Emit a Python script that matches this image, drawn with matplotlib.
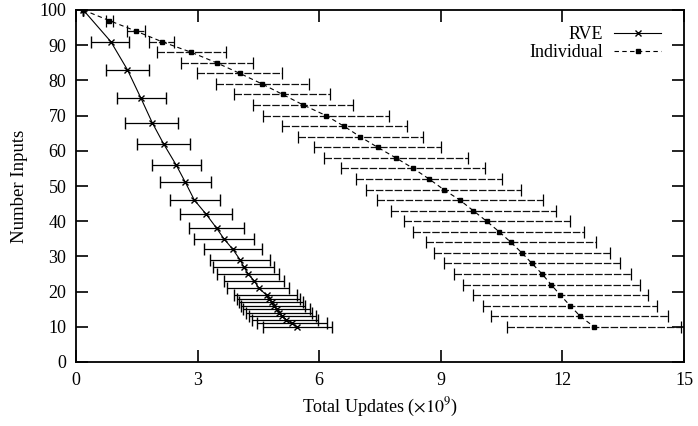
import matplotlib
matplotlib.use("Agg")
import matplotlib.pyplot as plt
import numpy as np

plt.rcParams['font.family'] = ['Liberation Serif', 'DejaVu Serif']
plt.rcParams['mathtext.fontset'] = 'stix'

# RVE series
rve_y = [100, 91, 83, 75, 68, 62, 56, 51, 46, 42, 38, 35, 32, 29, 27, 25, 23, 21,
         19, 18, 17, 16, 15, 14, 13, 12, 11, 10]
rve_x = [0.18, 0.86, 1.27, 1.60, 1.88, 2.16, 2.47, 2.70, 2.92, 3.21, 3.47, 3.65, 3.87,
         4.05, 4.14, 4.25, 4.40, 4.51, 4.70, 4.76, 4.83, 4.88, 4.95, 5.02, 5.09, 5.19,
         5.32, 5.45]
rve_lo = [0.18, 0.38, 0.73, 1.01, 1.21, 1.50, 1.87, 2.07, 2.31, 2.57, 2.80, 2.91, 3.17,
          3.31, 3.37, 3.48, 3.64, 3.73, 3.91, 3.96, 4.02, 4.06, 4.13, 4.19, 4.26, 4.33,
          4.46, 4.62]
rve_hi = [0.18, 1.31, 1.79, 2.22, 2.52, 2.81, 3.08, 3.33, 3.55, 3.86, 4.14, 4.40, 4.58,
          4.79, 4.89, 5.00, 5.14, 5.26, 5.46, 5.53, 5.61, 5.66, 5.77, 5.83, 5.91, 5.98,
          6.19, 6.31]

# Individual series
ind_y = [100, 97, 94, 91, 88, 85, 82, 79, 76, 73, 70, 67, 64, 61, 58, 55, 52, 49, 46,
         43, 40, 37, 34, 31, 28, 25, 22, 19, 16, 13, 10]
ind_x = [0.18, 0.82, 1.48, 2.12, 2.84, 3.47, 4.04, 4.59, 5.10, 5.61, 6.17, 6.61, 7.01,
         7.44, 7.89, 8.32, 8.71, 9.07, 9.47, 9.80, 10.13, 10.44, 10.73, 11.00, 11.25,
         11.50, 11.72, 11.95, 12.19, 12.44, 12.78]
ind_lo = [0.18, 0.73, 1.26, 1.80, 1.99, 2.58, 2.98, 3.45, 3.91, 4.37, 4.61, 5.07, 5.47,
          5.88, 6.13, 6.55, 6.91, 7.16, 7.43, 7.76, 8.09, 8.32, 8.63, 8.83, 9.07, 9.32,
          9.54, 9.79, 10.03, 10.25, 10.64]
ind_hi = [0.18, 0.92, 1.70, 2.42, 3.70, 4.36, 5.08, 5.75, 6.27, 6.83, 7.72, 8.17, 8.55,
          9.01, 9.66, 10.10, 10.52, 10.99, 11.51, 11.84, 12.19, 12.53, 12.84, 13.18,
          13.42, 13.70, 13.91, 14.10, 14.34, 14.61, 14.93]

x_ticks = [0, 3, 6, 9, 12, 15]
y_ticks = [0, 10, 20, 30, 40, 50, 60, 70, 80, 90, 100]

fig = plt.figure(figsize=(6.98, 4.26), dpi=100)
ax = fig.add_axes([76/698, 1-362/426, (684-76)/698, (362-10)/426])

def err(x, lo, hi):
    x = np.array(x); return [x - np.array(lo), np.array(hi) - x]

e1 = ax.errorbar(rve_x, rve_y, xerr=err(rve_x, rve_lo, rve_hi), color='black',
                 linestyle='-', linewidth=0.8, marker='x', markersize=4,
                 markeredgewidth=1.0, elinewidth=0.9, capsize=4, capthick=0.9,
                 label='RVE')
e2 = ax.errorbar(ind_x, ind_y, xerr=err(ind_x, ind_lo, ind_hi), color='black',
                 linestyle=(0, (4, 3)), linewidth=0.8, marker='s', markersize=3.5,
                 elinewidth=0.9, capsize=4, capthick=0.9, label='Individual')
for lc in e2[2]:
    lc.set_linestyle((0, (6, 1.5)))
    lc.set_color('#111111')

ax.set_xlim(0, 15)
ax.set_ylim(0, 100)
ax.set_xticks(x_ticks)
ax.set_yticks(y_ticks)
ax.tick_params(direction='in', top=True, right=True, length=8.5, width=1.2,
               labelsize=13, pad=7, colors='black')
for s in ax.spines.values():
    s.set_linewidth(1.3)
ax.set_xlabel(r'Total Updates ($\times 10^9$)', fontsize=13, labelpad=5)
ax.set_ylabel('Number Inputs', fontsize=13.5, labelpad=8)

leg = ax.legend(handles=[e1[0], e2[0]], labels=['RVE', 'Individual'],
                loc='upper right', bbox_to_anchor=(0.98, 0.985), frameon=False,
                markerfirst=False, fontsize=13, handlelength=2.6,
                labelspacing=0.05, handletextpad=0.6, borderaxespad=0.2)

fig.savefig('out.png', dpi=100)
